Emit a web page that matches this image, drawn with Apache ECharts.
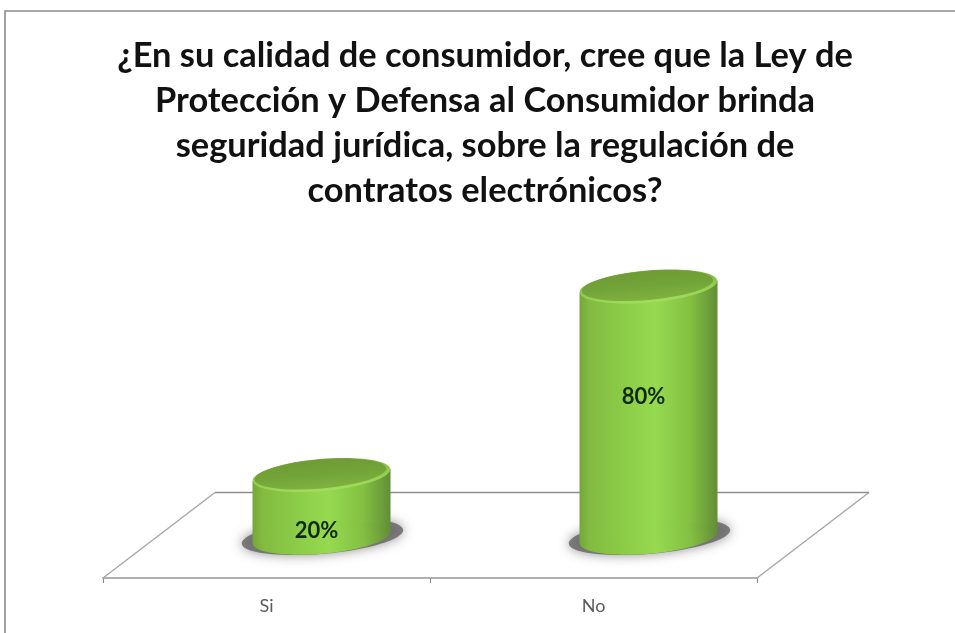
<!DOCTYPE html>
<html>
<head>
<meta charset="utf-8">
<style>html,body{margin:0;padding:0;background:#fff}#chart{width:955px;height:633px}</style>
<script src="https://cdn.jsdelivr.net/npm/echarts@6/dist/echarts.min.js"></script>
</head>
<body>
<div id="chart"></div>
<script>
// Survey answers and their shares, in percent
const categories = ['Si', 'No'];
const shares = [20, 80];
const titleText = '¿En su calidad de consumidor, cree que la Ley de\nProtección y Defensa al Consumidor brinda\nseguridad jurídica, sobre la regulación de\ncontratos electrónicos?';

// Oblique projection of the chart floor: how far the back edge sits from the front edge
const DEPTH_X = 112, DEPTH_Y = -85.5;
// Cylinder caps lean slightly, rising to the right
const TILT = 5 * Math.PI / 180;
const FONT = 'Lato, "Open Sans", sans-serif';

const grad = (stops, horizontal) => new echarts.graphic.LinearGradient(
  0, 0, horizontal ? 1 : 0, horizontal ? 0 : 1,
  stops.map(([offset, color]) => ({ offset, color })));

// Floor of the pseudo-3D plot, drawn from the grid's own rectangle
function renderFloor(params) {
  const g = params.coordSys, left = g.x, right = g.x + g.width, y = g.y + g.height;
  const line = (x1, y1, x2, y2, stroke, lineWidth) => ({
    type: 'line', shape: { x1, y1, x2, y2 }, style: { stroke, lineWidth }, silent: true
  });
  return {
    type: 'group',
    children: [
      line(left, y, left + DEPTH_X, y + DEPTH_Y, '#a8a8a8', 1.5),
      line(right, y, right + DEPTH_X, y + DEPTH_Y, '#a8a8a8', 1.5),
      line(left + DEPTH_X, y + DEPTH_Y, right + DEPTH_X, y + DEPTH_Y, '#8f8f8f', 1.5)
    ]
  };
}

// One cylinder: soft ground shadow, body, lit top cap and the value label
function renderCylinder(params, api) {
  const top = api.coord([api.value(0), api.value(1)]);
  const base = api.coord([api.value(0), 0]);
  const shiftX = DEPTH_X / 2 - 1, shiftY = DEPTH_Y / 2 + 2.5;
  const cx = base[0] + shiftX, baseY = base[1] + shiftY, topY = top[1] + shiftY;
  const rx = 69, ry = 16;
  const lean = rx * Math.sin(TILT);
  const h = baseY - topY;
  const bodyFill = grad([
    [0, '#76a63a'], [0.07, '#82bb40'], [0.35, '#8dce49'], [0.55, '#96da50'],
    [0.8, '#84c042'], [0.93, '#6f9f3b'], [1, '#628d35']
  ], true);
  const tilted = (x, y) => ({ rotation: TILT, originX: x, originY: y });
  return {
    type: 'group',
    children: [
      Object.assign({
        type: 'ellipse',
        shape: { cx: cx + 1, cy: baseY - 1, rx: rx + 12, ry: ry + 1 },
        style: { fill: 'rgba(105,105,105,0.85)', shadowBlur: 12, shadowColor: 'rgba(110,110,110,0.9)' },
        silent: true
      }, tilted(cx + 1, baseY - 1)),
      {
        type: 'polygon',
        shape: { points: [
          [cx - rx, topY + lean], [cx + rx, topY - lean],
          [cx + rx, baseY - lean], [cx - rx, baseY + lean]
        ] },
        style: { fill: bodyFill }
      },
      Object.assign({
        type: 'ellipse',
        shape: { cx, cy: baseY, rx, ry },
        style: { fill: bodyFill }
      }, tilted(cx, baseY)),
      Object.assign({
        type: 'ellipse',
        shape: { cx, cy: topY, rx, ry },
        style: { fill: grad([[0, '#7fae3c'], [0.85, '#9cd856'], [1, '#a2de5e']], false) }
      }, tilted(cx, topY)),
      Object.assign({
        type: 'ellipse',
        shape: { cx: cx - 1, cy: topY - 1, rx: rx - 3, ry: ry - 1.5 },
        style: { fill: grad([[0, '#6f9c35'], [0.5, '#72a338'], [1, '#7fb240']], false) }
      }, tilted(cx - 1, topY - 1)),
      {
        type: 'text',
        x: cx - 5,
        y: baseY - (0.713 * h - 38),
        style: {
          text: api.value(1) + '%',
          font: 'bold 22px ' + FONT,
          fill: '#0f2a08',
          align: 'center',
          verticalAlign: 'middle'
        }
      }
    ]
  };
}

const chart = echarts.init(document.getElementById('chart'), null, { renderer: 'canvas' });
chart.setOption({
  animation: false,
  backgroundColor: '#ffffff',
  title: {
    text: titleText,
    left: 480,
    top: 28,
    textAlign: 'center',
    textStyle: { fontFamily: FONT, fontWeight: 'bold', fontSize: 34.4, lineHeight: 45, color: '#111111' }
  },
  graphic: [{
    type: 'polyline',
    shape: { points: [[5, 633], [5, 11], [955, 11]] },
    style: { stroke: '#8a8a8a', fill: null, lineWidth: 1.6 },
    silent: true
  }],
  grid: { left: 103, right: 198, top: 264, height: 314 },
  xAxis: {
    type: 'category',
    data: categories,
    axisLine: { lineStyle: { color: '#b0b0b0', width: 2 } },
    axisTick: { show: true, length: 5, lineStyle: { color: '#8a8a8a', width: 1 } },
    axisLabel: { color: '#5c5c5c', fontFamily: FONT, fontSize: 18, margin: 19 }
  },
  yAxis: { type: 'value', min: 0, max: 100, show: false },
  series: [
    {
      type: 'custom',
      coordinateSystem: 'cartesian2d',
      renderItem: renderFloor,
      data: [[0, 0]],
      silent: true,
      z: 1
    },
    {
      type: 'custom',
      coordinateSystem: 'cartesian2d',
      renderItem: renderCylinder,
      encode: { x: 0, y: 1 },
      data: categories.map((c, i) => [i, shares[i]]),
      clip: false,
      z: 2
    }
  ]
});
</script>
</body>
</html>
